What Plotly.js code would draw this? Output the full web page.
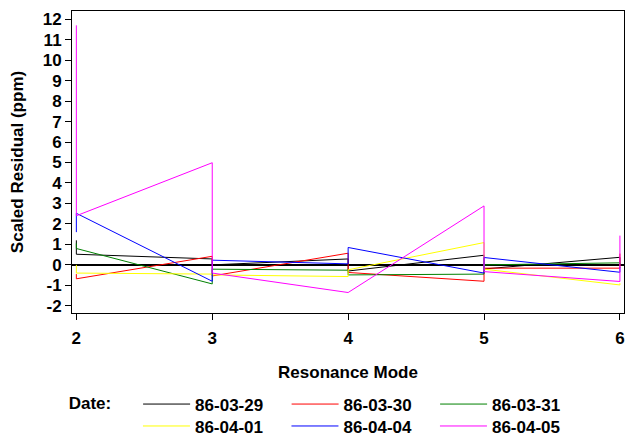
<!DOCTYPE html>
<html>
<head>
<meta charset="utf-8">
<script src="https://cdn.plot.ly/plotly-3.0.1.min.js"></script>
<style>html,body{margin:0;padding:0;background:#fff;}#chart{width:626px;height:438px;}</style>
</head>
<body>
<div id="chart"></div>
<script>
// Resonance mode for each run (two runs per mode)
const modes = [2, 2, 3, 3, 4, 4, 5, 5, 6, 6];
const dates = ["86-03-29", "86-03-30", "86-03-31", "86-04-01", "86-04-04", "86-04-05"];
const res_860329 = [1.2, 0.52, 0.29, 0.0, 0.29, -0.3, 0.47, -0.2, 0.37, -0.05];
const res_860330 = [-0.45, -0.68, 0.42, -0.54, 0.57, -0.37, -0.8, -0.16, -0.16, 0.55];
const res_860331 = [1.05, 0.8, -0.93, -0.21, -0.26, -0.49, -0.45, 0.0, 0.1, 0.05];
const res_860401 = [0.0, -0.4, -0.45, -0.49, -0.57, -0.24, 1.09, -0.21, -0.98, -0.9];
const res_860404 = [1.6, 2.52, -0.8, 0.23, 0.05, 0.85, -0.4, 0.36, -0.36, -0.1];
const res_860405 = [11.7, 2.4, 4.99, -0.4, -1.35, -1.35, 2.88, -0.33, -0.81, 1.43];
const xTicks = [2, 3, 4, 5, 6];
const yTicks = [-2, -1, 0, 1, 2, 3, 4, 5, 6, 7, 8, 9, 10, 11, 12];

const series = [res_860329, res_860330, res_860331, res_860401, res_860404, res_860405];
const colors = ["#000000", "#ff0000", "#008000", "#ffff00", "#0000ff", "#ff00ff"];

const traces = series.map((ys, i) => ({
  x: modes, y: ys, type: "scatter", mode: "lines", name: dates[i],
  legend: i < 3 ? "legend" : "legend2",
  line: {color: colors[i], width: 1}
}));

const font = {family: "Liberation Sans, Arial, sans-serif", color: "#000"};
const bold17 = Object.assign({size: 17, weight: "bold"}, font);
const layout = {
  width: 626, height: 438,
  margin: {l: 72, r: 2, t: 11, b: 125, autoexpand: false},
  paper_bgcolor: "#fff", plot_bgcolor: "#fff",
  showlegend: true,
  font: Object.assign({size: 14}, font),
  xaxis: {
    range: [1.968, 6.03], tickvals: xTicks, ticktext: xTicks.map(String),
    ticks: "outside", ticklen: 6, tickwidth: 1, tickcolor: "#000",
    showgrid: false, zeroline: false, showline: true, linecolor: "#000", linewidth: 1, mirror: true,
    ticklabelstandoff: 4,
    tickfont: bold17,
    title: {text: "Resonance Mode", standoff: 18, font: bold17}
  },
  yaxis: {
    range: [-2.35, 12.4], tickvals: yTicks, ticktext: yTicks.map(String),
    ticks: "outside", ticklen: 6, tickwidth: 1, tickcolor: "#000",
    showgrid: false, zeroline: true, zerolinecolor: "#000", zerolinewidth: 2,
    showline: true, linecolor: "#000", linewidth: 1, mirror: true,
    tickfont: bold17,
    title: {text: "Scaled Residual (ppm)", standoff: 14, font: bold17}
  },
  legend: {
    orientation: "h", x: -0.0096, xanchor: "left", y: -0.2434, yanchor: "top",
    entrywidth: 86.5, itemwidth: 47, tracegroupgap: 0, font: bold17,
    bgcolor: "rgba(0,0,0,0)",
    title: {text: "Date:&nbsp;&nbsp;&nbsp;&nbsp;", side: "left", font: bold17}
  },
  legend2: {
    orientation: "h", x: 0.1195, xanchor: "left", y: -0.316, yanchor: "top",
    entrywidth: 86.5, itemwidth: 47, tracegroupgap: 0, font: bold17,
    bgcolor: "rgba(0,0,0,0)"
  }
};

Plotly.newPlot("chart", traces, layout, {staticPlot: true, displayModeBar: false});
</script>
</body>
</html>
